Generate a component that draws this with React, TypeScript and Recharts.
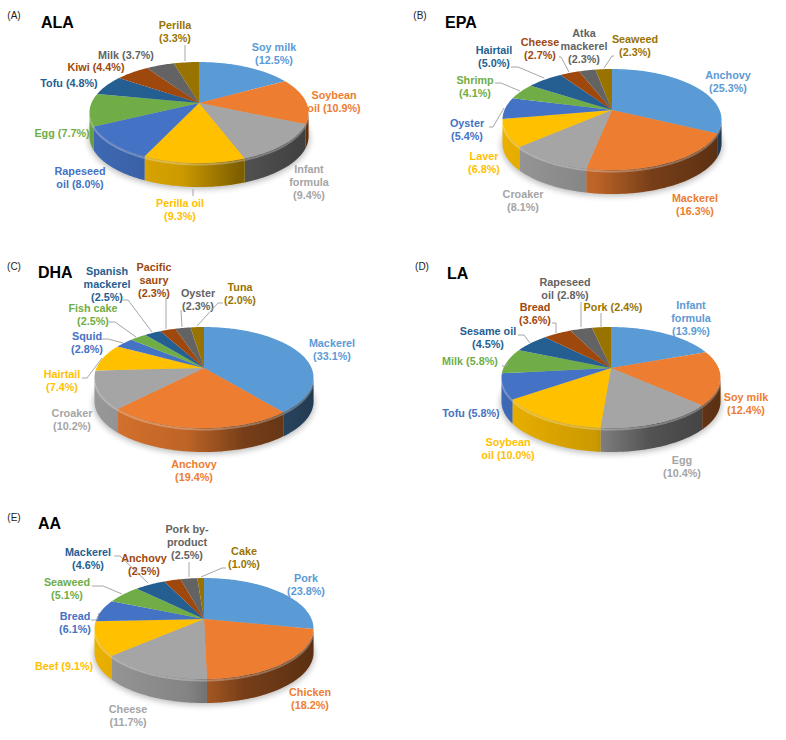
import { PieChart, Pie } from 'recharts';

const PALETTE = ['#5B9BD5', '#ED7D31', '#A5A5A5', '#FFC000', '#4472C4', '#70AD47', '#255E91', '#9E480E', '#636363', '#997300'];
const TEXT_COLORS = ['#5B9BD5', '#ED7D31', '#A5A5A5', '#FFC000', '#4472C4', '#70AD47', '#255E91', '#9E480E', '#636363', '#997300'];

const ALA_VALUES = [12.5, 10.9, 9.4, 9.3, 8.0, 7.7, 4.8, 4.4, 3.7, 3.3];
const ALA_LABELS = ['Soy milk\n(12.5%)', 'Soybean\noil (10.9%)', 'Infant\nformula\n(9.4%)', 'Perilla oil\n(9.3%)', 'Rapeseed\noil (8.0%)', 'Egg (7.7%)', 'Tofu (4.8%)', 'Kiwi (4.4%)', 'Milk (3.7%)', 'Perilla\n(3.3%)'];

const EPA_VALUES = [25.3, 16.3, 8.1, 6.8, 5.4, 4.1, 5.0, 2.7, 2.3, 2.3];
const EPA_LABELS = ['Anchovy\n(25.3%)', 'Mackerel\n(16.3%)', 'Croaker\n(8.1%)', 'Laver\n(6.8%)', 'Oyster\n(5.4%)', 'Shrimp\n(4.1%)', 'Hairtail\n(5.0%)', 'Cheese\n(2.7%)', 'Atka\nmackerel\n(2.3%)', 'Seaweed\n(2.3%)'];

const DHA_VALUES = [33.1, 19.4, 10.2, 7.4, 2.8, 2.5, 2.5, 2.3, 2.3, 2.0];
const DHA_LABELS = ['Mackerel\n(33.1%)', 'Anchovy\n(19.4%)', 'Croaker\n(10.2%)', 'Hairtail\n(7.4%)', 'Squid\n(2.8%)', 'Fish cake\n(2.5%)', 'Spanish\nmackerel\n(2.5%)', 'Pacific\nsaury\n(2.3%)', 'Oyster\n(2.3%)', 'Tuna\n(2.0%)'];

const LA_VALUES = [13.9, 12.4, 10.4, 10.0, 5.8, 5.8, 4.5, 3.6, 2.8, 2.4];
const LA_LABELS = ['Infant\nformula\n(13.9%)', 'Soy milk\n(12.4%)', 'Egg\n(10.4%)', 'Soybean\noil (10.0%)', 'Tofu (5.8%)', 'Milk (5.8%)', 'Sesame oil\n(4.5%)', 'Bread\n(3.6%)', 'Rapeseed\noil (2.8%)', 'Pork (2.4%)'];

const AA_VALUES = [23.8, 18.2, 11.7, 9.1, 6.1, 5.1, 4.6, 2.5, 2.5, 1.0];
const AA_LABELS = ['Pork\n(23.8%)', 'Chicken\n(18.2%)', 'Cheese\n(11.7%)', 'Beef (9.1%)', 'Bread\n(6.1%)', 'Seaweed\n(5.1%)', 'Mackerel\n(4.6%)', 'Anchovy\n(2.5%)', 'Pork by-\nproduct\n(2.5%)', 'Cake\n(1.0%)'];

// label placement: centre x, first line y, optional connector
type Place = { x: number; y: number; line?: number[][] };

const ALA_PLACES: Place[] = [
  { x: 274, y: 47 },
  { x: 334, y: 95 },
  { x: 309, y: 169 },
  { x: 180, y: 203, line: [[193, 189], [193, 196]] },
  { x: 80, y: 171 },
  { x: 62, y: 133 },
  { x: 69, y: 83 },
  { x: 96, y: 67 },
  { x: 126, y: 55 },
  { x: 175, y: 25, line: [[185, 45], [185, 61]] },
];
const EPA_PLACES: Place[] = [
  { x: 728, y: 75 },
  { x: 695, y: 198 },
  { x: 523, y: 194 },
  { x: 484, y: 156 },
  { x: 467, y: 123, line: [[489, 127], [493, 127], [504, 108]] },
  { x: 475, y: 80, line: [[495, 83], [501, 83], [520, 91]] },
  { x: 494, y: 50, line: [[511, 67], [518, 67], [544, 78]] },
  { x: 540, y: 42, line: [[559, 57], [561, 57], [569, 72]] },
  { x: 584, y: 33 },
  { x: 635, y: 39, line: [[614, 56], [612, 56], [604, 68]] },
];
const DHA_PLACES: Place[] = [
  { x: 332, y: 343 },
  { x: 194, y: 464 },
  { x: 72, y: 413 },
  { x: 62, y: 374, line: [[82, 378], [87, 378], [102, 358]] },
  { x: 87, y: 336, line: [[102, 339], [108, 339], [123, 343]] },
  { x: 93, y: 308, line: [[109, 322], [115, 322], [136, 337]] },
  { x: 107, y: 271, line: [[123, 300], [128, 300], [152, 332]] },
  { x: 154, y: 267, line: [[166, 298], [166, 329]] },
  { x: 198, y: 293, line: [[181, 310], [182, 327]] },
  { x: 240, y: 287, line: [[223, 303], [218, 303], [197, 326]] },
];
const LA_PLACES: Place[] = [
  { x: 691, y: 305 },
  { x: 746, y: 397 },
  { x: 682, y: 460 },
  { x: 508, y: 442 },
  { x: 471, y: 413 },
  { x: 470, y: 361, line: [[502, 366], [506, 366], [508, 361]] },
  { x: 488, y: 331, line: [[518, 335], [524, 335], [530, 343]] },
  { x: 535, y: 307, line: [[552, 323], [556, 323], [556, 333]] },
  { x: 565, y: 282, line: [[581, 302], [581, 327]] },
  { x: 613, y: 307, line: [[601, 313], [601, 327]] },
];
const AA_PLACES: Place[] = [
  { x: 306, y: 578 },
  { x: 310, y: 692 },
  { x: 128, y: 709 },
  { x: 64, y: 666 },
  { x: 75, y: 616, line: [[91, 620], [97, 620], [99, 613]] },
  { x: 67, y: 582, line: [[92, 586], [103, 586], [122, 594]] },
  { x: 88, y: 552, line: [[114, 556], [120, 556], [148, 583]] },
  { x: 144, y: 558 },
  { x: 187, y: 529, line: [[189, 562], [189, 577]] },
  { x: 244, y: 551, line: [[226, 568], [222, 568], [201, 577]] },
];

const FONT = '"Liberation Sans", Arial, sans-serif';

// the tilted disc: the pie centre sits above the middle of the ellipse
const BACK = 41;
const FRONT = 60;
const DEPTH = 24;
const RADIUS = 109.5;
const K = (FRONT - BACK) / (FRONT + BACK);
const H = FRONT * (1 - K);
const W_SCALE = Math.sqrt(1 - K * K);
const WALL_FROM = (Math.acos(-K) * 180) / Math.PI;

function project(cx: number, cy: number, r: number, deg: number, drop = 0) {
  const t = (deg * Math.PI) / 180;
  const d = 1 + K * Math.cos(t);
  return [cx + (r * W_SCALE * Math.sin(t)) / d, cy - (H * Math.cos(t)) / d + drop];
}

function arcPoints(cx: number, cy: number, r: number, from: number, to: number, drop = 0) {
  const pts: number[][] = [];
  const steps = Math.max(2, Math.ceil(Math.abs(to - from)));
  for (let i = 0; i <= steps; i++) {
    pts.push(project(cx, cy, r, from + ((to - from) * i) / steps, drop));
  }
  return pts;
}

const toPath = (pts: number[][]) => pts.map((p, i) => `${i ? 'L' : 'M'}${p[0].toFixed(2)} ${p[1].toFixed(2)}`).join('');

function Slice3D(props: any) {
  const { cx, cy, outerRadius, startAngle, endAngle, fill } = props;
  const a = 90 - Math.max(startAngle, endAngle);
  const b = 90 - Math.min(startAngle, endAngle);
  const shadeId = `shade-${Math.round(cx)}-${Math.round(cy)}`;
  const wallA = Math.max(a, WALL_FROM);
  const wallB = Math.min(b, 360 - WALL_FROM);
  const hasWall = wallB > wallA;
  const first = startAngle === 90;
  const top = arcPoints(cx, cy, outerRadius, a, b);

  return (
    <g>
      {first && (
        <>
          <defs>
            <linearGradient id={shadeId} gradientUnits="userSpaceOnUse" x1={cx - outerRadius} x2={cx + outerRadius} y1={0} y2={0}>
              <stop offset="0" stopColor="#000" stopOpacity={0.08} />
              <stop offset="0.42" stopColor="#000" stopOpacity={0.2} />
              <stop offset="0.68" stopColor="#000" stopOpacity={0.5} />
              <stop offset="1" stopColor="#000" stopOpacity={0.62} />
            </linearGradient>
            <filter id={`blur-${shadeId}`} x="-20%" y="-20%" width="140%" height="140%">
              <feGaussianBlur stdDeviation="3" />
            </filter>
            <filter id={`soft-${shadeId}`} x="-5%" y="-30%" width="110%" height="160%">
              <feGaussianBlur stdDeviation="0.7" />
            </filter>
          </defs>
          <ellipse
            cx={cx}
            cy={cy + (FRONT - BACK) / 2 + DEPTH + 2}
            rx={outerRadius + 1}
            ry={(FRONT + BACK) / 2}
            fill="#000"
            opacity={0.28}
            filter={`url(#blur-${shadeId})`}
          />
        </>
      )}
      {hasWall && (
        <>
          <path
            d={`${toPath(arcPoints(cx, cy, outerRadius, wallA, wallB))}${toPath(arcPoints(cx, cy, outerRadius, wallB, wallA, DEPTH)).replace('M', 'L')}Z`}
            fill={fill}
          />
          <path
            d={`${toPath(arcPoints(cx, cy, outerRadius, wallA, wallB))}${toPath(arcPoints(cx, cy, outerRadius, wallB, wallA, DEPTH)).replace('M', 'L')}Z`}
            fill={`url(#${shadeId})`}
          />
          <path
            d={toPath(arcPoints(cx, cy, outerRadius, wallA, wallB, 1.5))}
            fill="none"
            stroke="#fff"
            strokeOpacity={0.28}
            strokeWidth={2}
            filter={`url(#soft-${shadeId})`}
          />
        </>
      )}
      <path d={`M${cx} ${cy}${toPath(top).replace('M', 'L')}Z`} fill={fill} />
    </g>
  );
}

function renderLabel(labels: string[], places: Place[]) {
  return (props: any) => {
    const i = props.index;
    const place = places[i];
    const lines = labels[i].split('\n');
    return (
      <g key={`label-${i}`}>
        {place.line && (
          <polyline points={place.line.map((p) => p.join(',')).join(' ')} fill="none" stroke="#a6a6a6" strokeWidth={1} />
        )}
        <text
          x={place.x}
          y={place.y}
          textAnchor="middle"
          fontFamily={FONT}
          fontSize={10.8}
          fontWeight={700}
          fill={TEXT_COLORS[i]}
        >
          {lines.map((line, n) => (
            <tspan key={n} x={place.x} y={place.y + n * 13.2} dominantBaseline="central">
              {line}
            </tspan>
          ))}
        </text>
      </g>
    );
  };
}

const toRows = (labels: string[], values: number[]) =>
  values.map((value, i) => ({ name: labels[i], value, fill: PALETTE[i] }));

const PANELS = [
  { tag: '(A)', tagX: 14, tagY: 15, title: 'ALA', titleX: 41, titleY: 22, cx: 199, cy: 103, labels: ALA_LABELS, values: ALA_VALUES, places: ALA_PLACES },
  { tag: '(B)', tagX: 420, tagY: 15, title: 'EPA', titleX: 445, titleY: 22, cx: 612, cy: 110, labels: EPA_LABELS, values: EPA_VALUES, places: EPA_PLACES },
  { tag: '(C)', tagX: 14, tagY: 266, title: 'DHA', titleX: 38, titleY: 272, cx: 204, cy: 368, labels: DHA_LABELS, values: DHA_VALUES, places: DHA_PLACES },
  { tag: '(D)', tagX: 422, tagY: 266, title: 'LA', titleX: 447, titleY: 273, cx: 611, cy: 368, labels: LA_LABELS, values: LA_VALUES, places: LA_PLACES },
  { tag: '(E)', tagX: 14, tagY: 517, title: 'AA', titleX: 38, titleY: 523, cx: 204, cy: 619, labels: AA_LABELS, values: AA_VALUES, places: AA_PLACES },
];

export default function App() {
  return (
    <div style={{ position: 'absolute', left: 0, top: 0, width: 786, height: 740, background: '#fff' }}>
      <PieChart width={786} height={740} margin={{ top: 0, right: 0, bottom: 0, left: 0 }}>
        {PANELS.map((p) => (
          <Pie
            key={p.title}
            data={toRows(p.labels, p.values)}
            dataKey="value"
            nameKey="name"
            cx={p.cx}
            cy={p.cy}
            outerRadius={RADIUS}
            startAngle={90}
            endAngle={-270}
            stroke="none"
            shape={Slice3D}
            label={renderLabel(p.labels, p.places)}
            labelLine={false}
            isAnimationActive={false}
          />
        ))}
        {PANELS.map((p) => (
          <g key={p.tag}>
            <text x={p.tagX} y={p.tagY} textAnchor="middle" dominantBaseline="central" fontFamily={FONT} fontSize={10} fill="#222">
              {p.tag}
            </text>
            <text x={p.titleX} y={p.titleY} dominantBaseline="central" fontFamily={FONT} fontSize={16} fontWeight={700} fill="#000">
              {p.title}
            </text>
          </g>
        ))}
      </PieChart>
    </div>
  );
}
